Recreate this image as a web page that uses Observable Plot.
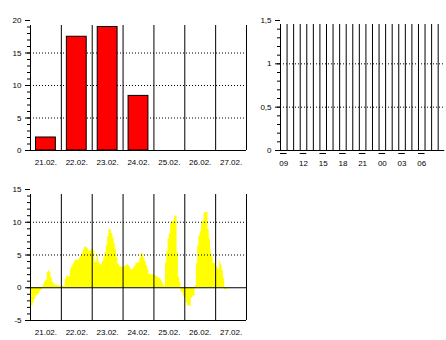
<!DOCTYPE html>
<html><head><meta charset="utf-8">
<script src="https://cdn.jsdelivr.net/npm/d3@7"></script>
<script src="https://cdn.jsdelivr.net/npm/@observablehq/plot@0.6"></script>
<style>
html,body{margin:0;padding:0;background:#fff;}
#wrap{position:relative;width:446px;height:340px;overflow:hidden;background:#fff;}
#wrap svg{position:absolute;}
</style></head><body><div id="wrap"></div>
<script>
// ---- data ----
const days = ["21.02.","22.02.","23.02.","24.02.","25.02.","26.02.","27.02."];
const dailyPrecip = [2.0, 17.5, 19.0, 8.4, 0, 0, 0];
const precipTicks = [0, 5, 10, 15, 20];

const hourLabels = ["09","12","15","18","21","00","03","06"];
const hourlyPrecip = [0,0,0,0,0,0,0,0,0,0,0,0,0,0,0,0,0,0,0,0,0,0,0,0];
const hourTicks = [0, 0.5, 1, 1.5];

const tempTicks = [-5, 0, 5, 10, 15];
const temp21 = [-2.8,-2.8,-2.3,-1.8,-1.3,-1.1,-0.9,-0.6,-0.4,-0.2,0.5,0.9,1.1,2.3,2.6,2.3,1.5,0.8,0.6,0.4,0.4,0.3,0.3,0.2];
const temp22 = [0.3,0.2,0.2,1.3,1.8,1.6,1.7,2.8,3.2,3.6,4.0,4.2,4.2,4.2,4.5,4.8,5.3,5.8,6.2,6.2,6.0,5.6,5.6,5.7];
const temp23 = [6.0,5.6,3.9,3.9,5.0,3.9,3.5,3.5,4.0,4.6,5.4,6.5,7.8,8.9,8.8,8.3,7.6,6.8,5.8,4.6,3.6,3.2,3.2,3.1];
const temp24 = [3.1,3.2,3.4,3.5,3.4,3.1,2.8,2.8,3.0,3.3,3.8,3.7,3.9,4.5,5.3,5.0,4.5,4.0,3.4,2.8,2.1,2.0,2.0,2.0];
const temp25 = [1.8,1.8,1.7,1.6,1.4,1.2,0.9,0.5,0.2,3.8,5.5,7.5,8.3,9.8,10.0,10.2,10.9,10.9,5.3,1.6,0.8,-0.6,-0.8,-1.3];
const temp26 = [-1.6,-2.3,-2.8,-2.8,-2.8,-1.6,-1.3,-1.3,0.3,3.7,6.4,7.9,8.5,9.9,10.2,11.4,11.5,11.5,8.9,7.4,5.5,4.7,3.7,3.7];
const temp27 = [3.2,3.0,2.8,4.0,3.5,2.6,1.5,-0.3,-0.3];

// ---- derived tables ----
const bounds = d3.range(days.length + 1);
const barData = dailyPrecip.map((v, i) => ({i, v})).filter(d => d.v > 0);
const tempDays = [temp21, temp22, temp23, temp24, temp25, temp26, temp27];
const tempData = [];
tempDays.forEach((arr, di) => arr.forEach((v, h) => tempData.push({t: di + h / 24, v})));
const last = tempData[tempData.length - 1];
tempData.push({t: last.t + 1 / 24, v: last.v}); // close final step
const hourBounds = d3.range(hourlyPrecip.length + 1);
const hourLabelIdx = hourLabels.map((l, k) => k * 3);

const font = {fontFamily: "'Liberation Sans', Arial, sans-serif", fontSize: "8px", color: "#000", background: "transparent", overflow: "visible"};
const dotted = {stroke: "#000", strokeDasharray: "1,2", strokeWidth: 1};
const minor = (domain, step) => d3.range(domain[0], domain[1] + step / 2, step).map(v => +v.toFixed(3));

const wrap = document.getElementById("wrap");
function place(svg, left, top) { svg.style.left = left + "px"; svg.style.top = top + "px"; wrap.appendChild(svg); }

// ---- A: daily precipitation ----
const A = Plot.plot({
  width: 250, height: 170, marginLeft: 30, marginRight: 4, marginTop: 20, marginBottom: 20,
  x: {domain: [0, 7], axis: null}, y: {domain: [0, 20], axis: null},
  style: font,
  marks: [
    Plot.ruleY([5, 10, 15], dotted),
    Plot.rect(barData, {x1: "i", x2: d => d.i + 1, y1: 0, y2: "v", fill: "#ff0000", stroke: "#000", insetLeft: 5.5, insetRight: 5.5}),
    Plot.ruleX(bounds, {y1: 0, y2: 20, stroke: "#000", insetBottom: -5}),
    Plot.ruleY([0], {stroke: "#000"}),
    Plot.ruleY(minor([0, 20], 1), {x1: 0, x2: 0, insetLeft: -3, stroke: "#000"}),
    Plot.axisY(precipTicks, {anchor: "left", tickSize: 5, tickPadding: 4, label: null, tickFormat: d => String(d)}),
    Plot.axisX(days.map((d, i) => i + 0.5), {anchor: "bottom", tickSize: 0, tickPadding: 9, label: null, tickFormat: d => days[Math.floor(d)]})
  ]
});
place(A, 0, 0);

// ---- B: hourly precipitation ----
const B = Plot.plot({
  width: 196, height: 170, marginLeft: 30, marginRight: 1.75, marginTop: 20, marginBottom: 20,
  x: {domain: [0, 25], axis: null}, y: {domain: [0, 1.5], axis: null},
  style: font,
  marks: [
    Plot.ruleY([0.5, 1], dotted),
    Plot.rect(hourlyPrecip.map((v, i) => ({i, v})).filter(d => d.v > 0), {x1: "i", x2: d => d.i + 1, y1: 0, y2: "v", fill: "#0000ff", stroke: "#000"}),
    Plot.ruleX(hourBounds, {y1: 0, y2: 1.5, stroke: "#000", insetBottom: -4}),
    Plot.ruleY([0], {stroke: "#000"}),
    Plot.ruleY(hourLabelIdx, {y: 0, x1: d => d, x2: d => d + 1, dy: 3, stroke: "#000"}),
    Plot.ruleY(minor([0, 1.5], 0.1), {x1: 0, x2: 0, insetLeft: -3, stroke: "#000"}),
    Plot.axisY(hourTicks, {anchor: "left", tickSize: 5, tickPadding: 4, label: null, tickFormat: d => String(d).replace(".", ",")}),
    Plot.axisX(hourLabelIdx.map(i => i + 0.5), {anchor: "bottom", tickSize: 0, tickPadding: 9.5, label: null, tickFormat: d => hourLabels[Math.floor(d) / 3]})
  ]
});
place(B, 250, 0);

// ---- C: temperature ----
const C = Plot.plot({
  width: 250, height: 170, marginLeft: 30, marginRight: 4, marginTop: 19, marginBottom: 20,
  x: {domain: [0, 7], axis: null}, y: {domain: [-5, 15], axis: null},
  style: font,
  marks: [
    Plot.areaY(tempData, {x: "t", y1: 0, y2: "v", curve: "step-after", fill: "#ffff00"}),
    Plot.ruleY([5, 10], dotted),
    Plot.ruleX(bounds, {y1: -5, y2: 15, stroke: "#000", insetBottom: -5}),
    Plot.ruleY([0, -5], {stroke: "#000"}),
    Plot.ruleY(minor([-5, 15], 1), {x1: 0, x2: 0, insetLeft: -3, stroke: "#000"}),
    Plot.axisY(tempTicks, {anchor: "left", tickSize: 5, tickPadding: 4, label: null, tickFormat: d => String(d)}),
    Plot.axisX(days.map((d, i) => i + 0.5), {anchor: "bottom", tickSize: 0, tickPadding: 9, label: null, tickFormat: d => days[Math.floor(d)]})
  ]
});
place(C, 0, 170);
</script></body></html>
